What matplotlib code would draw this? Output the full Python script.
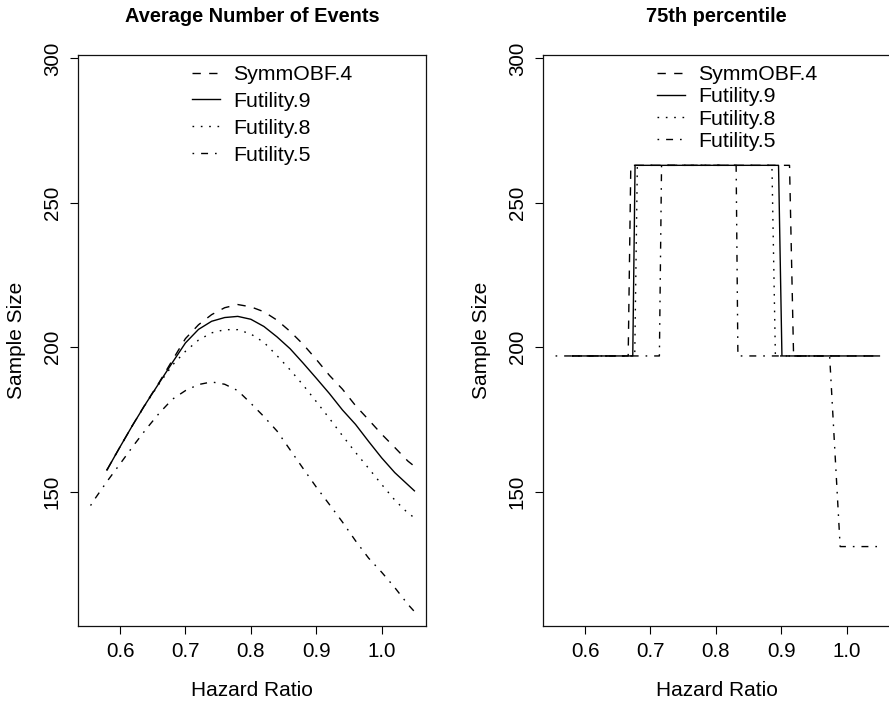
import matplotlib
matplotlib.use("Agg")
import matplotlib.pyplot as plt

plt.rcParams['font.family'] = ['Liberation Sans', 'DejaVu Sans']

# ---------------- data: left panel (average number of events) ----------------
hr = [0.58, 0.60, 0.62, 0.64, 0.66, 0.68, 0.70, 0.72, 0.74, 0.76, 0.78, 0.80,
      0.82, 0.84, 0.86, 0.88, 0.90, 0.92, 0.94, 0.96, 0.98, 1.00, 1.02, 1.04, 1.05]
avg_symm = [157.5, 165.5, 173.3, 180.8, 187.9, 195.5, 203.0, 207.8, 211.3, 213.7,
            214.8, 214.0, 212.3, 209.4, 205.5, 201.0, 195.8, 190.3, 185.5, 179.8,
            174.9, 169.9, 165.3, 160.6, 158.8]
avg_fut9 = [157.5, 165.5, 173.3, 180.7, 187.7, 194.7, 201.5, 206.2, 209.0, 210.3,
            210.7, 209.7, 207.2, 203.6, 199.5, 194.5, 189.3, 184.0, 178.3, 173.3,
            167.4, 161.7, 156.6, 152.4, 150.3]
avg_fut8 = [157.5, 165.5, 173.3, 180.6, 187.4, 193.8, 198.6, 202.5, 205.0, 206.1,
            206.1, 204.6, 201.7, 197.1, 192.2, 186.9, 181.2, 175.4, 169.4, 163.6,
            158.1, 152.5, 147.1, 142.6, 141.0]
hr5 = [0.555, 0.56, 0.58, 0.60, 0.62, 0.64, 0.66, 0.68, 0.70, 0.72, 0.74, 0.76,
       0.78, 0.80, 0.82, 0.84, 0.86, 0.88, 0.90, 0.92, 0.94, 0.96, 0.98, 1.00,
       1.02, 1.04, 1.05]
avg_fut5 = [145.2, 147.0, 153.5, 159.6, 165.8, 171.7, 177.2, 182.0, 185.0, 187.1,
            188.0, 187.2, 185.0, 180.6, 176.0, 171.0, 164.5, 158.0, 151.6, 145.6,
            139.5, 133.0, 127.0, 122.1, 116.8, 111.0, 108.5]

# ---------------- data: right panel (75th percentile) ----------------
p75_symm_x = [0.58, 0.666, 0.670, 0.9126, 0.9188, 1.05]
p75_symm_y = [197, 197, 263, 263, 197, 197]
p75_fut9_x = [0.58, 0.673, 0.6765, 0.8958, 0.901, 1.05]
p75_fut9_y = [197, 197, 263, 263, 197, 197]
p75_fut8_x = [0.58, 0.676, 0.680, 0.8857, 0.891, 1.05]
p75_fut8_y = [197, 197, 263, 263, 197, 197]
p75_fut5_x = [0.555, 0.7137, 0.717, 0.831, 0.8337, 0.9739, 0.990, 1.05]
p75_fut5_y = [197, 197, 263, 263, 197, 197, 131, 131]

labels = ["SymmOBF.4", "Futility.9", "Futility.8", "Futility.5"]
xticks = [0.6, 0.7, 0.8, 0.9, 1.0]
xticklabels = ["0.6", "0.7", "0.8", "0.9", "1.0"]
yticks = [150, 200, 250, 300]
yticklabels = ["150", "200", "250", "300"]

styles = [
    dict(linestyle=(0, (6.0, 6.0))),
    dict(linestyle='-'),
    dict(linestyle=(0, (1.2, 4.8))),
    dict(linestyle=(0, (1.2, 5.0, 5.0, 5.0))),
]
LW = 1.0
FS = 14.8

W, H = 889, 703
fig = plt.figure(figsize=(W / 100, H / 100), dpi=100)

def fx(p):
    return p / W

def fy(p):
    return 1 - p / H

axL = fig.add_axes([fx(78), fy(626), fx(426) - fx(78), fy(55) - fy(626)])
axR = fig.add_axes([fx(543), fy(626), fx(891) - fx(543), fy(55) - fy(626)])

left_series = [(hr, avg_symm), (hr, avg_fut9), (hr, avg_fut8), (hr5, avg_fut5)]
right_series = [(p75_symm_x, p75_symm_y), (p75_fut9_x, p75_fut9_y),
                (p75_fut8_x, p75_fut8_y), (p75_fut5_x, p75_fut5_y)]

LEG_FS = 15.3
for ax, series, leg_spacing in ((axL, left_series, 0.37), (axR, right_series, 0.155)):
    for (xs, ys), st, lab in zip(series, styles, labels):
        ax.plot(xs, ys, color='black', lw=LW, label=lab, **st)
    ax.set_xlim(0.5358, 1.0677)
    ax.set_ylim(103.5, 301.2)
    ax.set_xticks(xticks)
    ax.set_xticklabels(xticklabels)
    ax.set_yticks(yticks)
    ax.set_yticklabels(yticklabels, rotation=90, va='center')
    ax.tick_params(axis='both', direction='out', length=5.8, width=0.8,
                   labelsize=FS, color='black')
    ax.tick_params(axis='x', pad=5.4)
    ax.tick_params(axis='y', pad=5.8)
    for sp in ax.spines.values():
        sp.set_linewidth(0.9)
        sp.set_color('#111111')
    ax.legend(loc='upper left', bbox_to_anchor=(0.3276, 0.9824),
              frameon=False, fontsize=LEG_FS, handlelength=1.32,
              handletextpad=0.61, labelspacing=leg_spacing,
              borderpad=0, borderaxespad=0)

# titles and axis labels
fig.text(fx(252), fy(16), "Average Number of Events", ha='center', va='center',
         fontsize=14.4, fontweight='bold')
fig.text(fx(716.5), fy(16), "75th percentile", ha='center', va='center',
         fontsize=14.4, fontweight='bold')
fig.text(fx(252), fy(690), "Hazard Ratio", ha='center', va='center', fontsize=15)
fig.text(fx(716.5), fy(690), "Hazard Ratio", ha='center', va='center', fontsize=15)
fig.text(fx(16.5), fy(340.5), "Sample Size", ha='center', va='center', rotation=90, fontsize=15)
fig.text(fx(481.5), fy(340.5), "Sample Size", ha='center', va='center', rotation=90, fontsize=15)

fig.savefig("out.png", dpi=100)
